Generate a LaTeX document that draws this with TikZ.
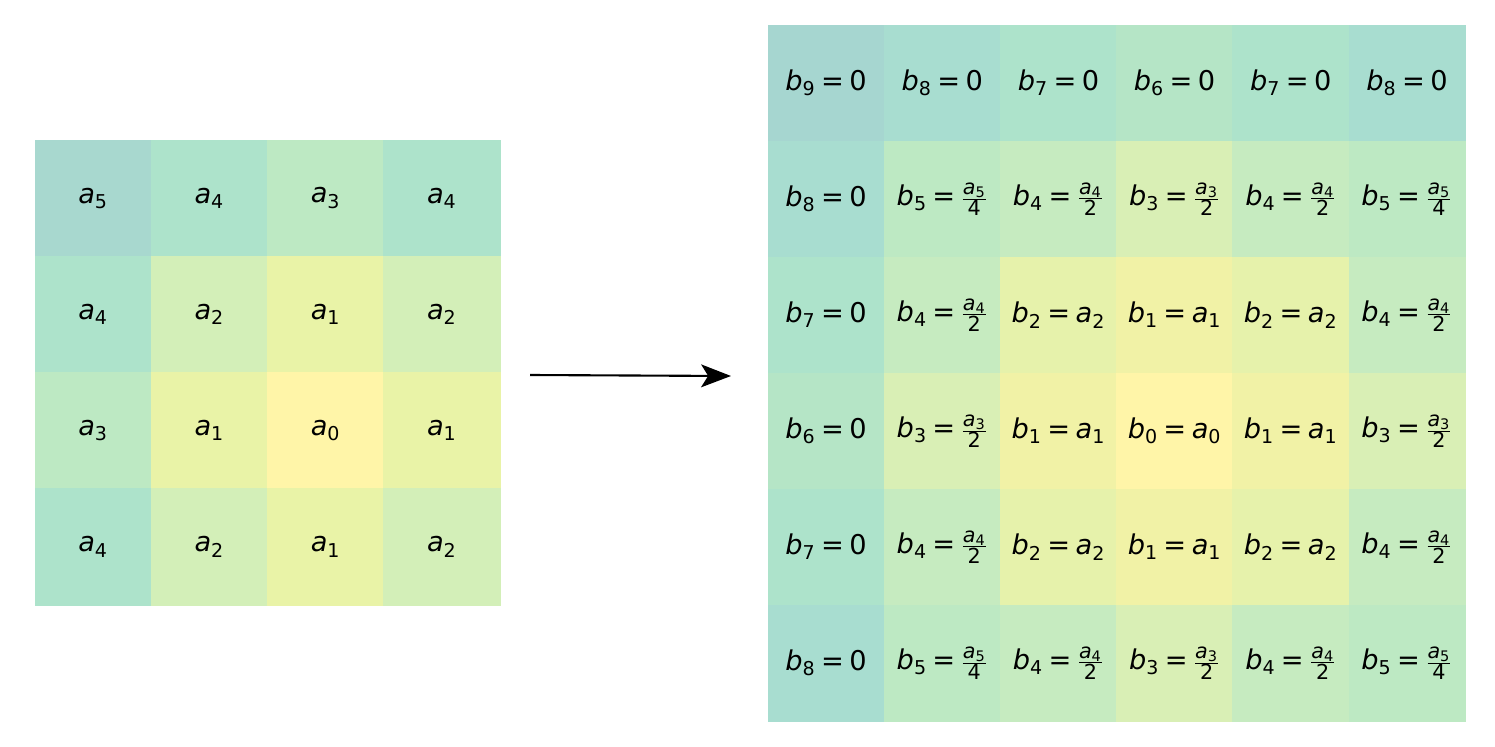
\documentclass[tikz,border=0pt]{standalone}
\usepackage{fontspec}
\setmainfont{DejaVu Sans}
\usetikzlibrary{arrows.meta}
\definecolor{ac0}{HTML}{FFF5A8}
\definecolor{ac1}{HTML}{E9F3A7}
\definecolor{ac2}{HTML}{D3EFB8}
\definecolor{ac3}{HTML}{BDE9C3}
\definecolor{ac4}{HTML}{ADE3CB}
\definecolor{ac5}{HTML}{A8D8CF}
\definecolor{bc0}{HTML}{FFF5A8}
\definecolor{bc1}{HTML}{F1F2A6}
\definecolor{bc2}{HTML}{E6F2AB}
\definecolor{bc3}{HTML}{D9EFB5}
\definecolor{bc4}{HTML}{C6EBC0}
\definecolor{bc5}{HTML}{BDE9C3}
\definecolor{bc6}{HTML}{B5E5C6}
\definecolor{bc7}{HTML}{ADE3CB}
\definecolor{bc8}{HTML}{A8DDD0}
\definecolor{bc9}{HTML}{A6D6D0}
\newcommand\sy[2]{\textit{#1}\textsubscript{#2}}
\newcommand\eq{\hspace{0.2em}=\hspace{0.2em}}
\newcommand\fr[2]{$\frac{\mbox{\fontsize{11.8}{12}\selectfont\textit{a}\textsubscript{#1}}}{\mbox{\fontsize{11.8}{12}\selectfont #2}}$}
\newcommand\bcell[1]{\sy{b}{#1}\eq\ifcase#1 \sy{a}{0}\or\sy{a}{1}\or\sy{a}{2}\or\fr{3}{2}\or\fr{4}{2}\or\fr{5}{4}\else 0\fi}
\tikzset{
  lcell/.style={line width=0.4pt, inner sep=0pt, minimum width=2.325cm, minimum height=2.325cm, font=\fontsize{15.5}{18}\selectfont},
  rcell/.style={line width=0.4pt, inner sep=0pt, minimum width=2.3234cm, minimum height=2.32cm, font=\fontsize{15.5}{18}\selectfont},
  arr/.style={line width=1.2pt, -{Stealth[length=17pt,width=13pt,inset=4pt]}}
}
\begin{document}
\begin{tikzpicture}[x=0.02cm,y=-0.02cm]
\useasboundingbox (0,0) rectangle (1495,747);
% left grid
\foreach \row/\vals in {0/{5,4,3,4},1/{4,2,1,2},2/{3,1,0,1},3/{4,2,1,2}}{
  \foreach \v [count=\c from 0] in \vals {
    \node[lcell, fill=ac\v, draw=ac\v] (L\row\c) at ({35+116.25*(\c+0.5)},{140+116.25*(\row+0.5)}) {\sy{a}{\v}};
  }
}
% right grid
\foreach \row/\vals in {0/{9,8,7,6,7,8},1/{8,5,4,3,4,5},2/{7,4,2,1,2,4},3/{6,3,1,0,1,3},4/{7,4,2,1,2,4},5/{8,5,4,3,4,5}}{
  \foreach \v [count=\c from 0] in \vals {
    \node[rcell, fill=bc\v, draw=bc\v] (R\row\c) at ({768+116.17*(\c+0.5)},{25+116*(\row+0.5)}) {\bcell{\v}};
  }
}
\coordinate (as) at (530,375);
\coordinate (ae) at (731,376);
\draw[arr] (as) -- (ae);
\end{tikzpicture}
\end{document}
